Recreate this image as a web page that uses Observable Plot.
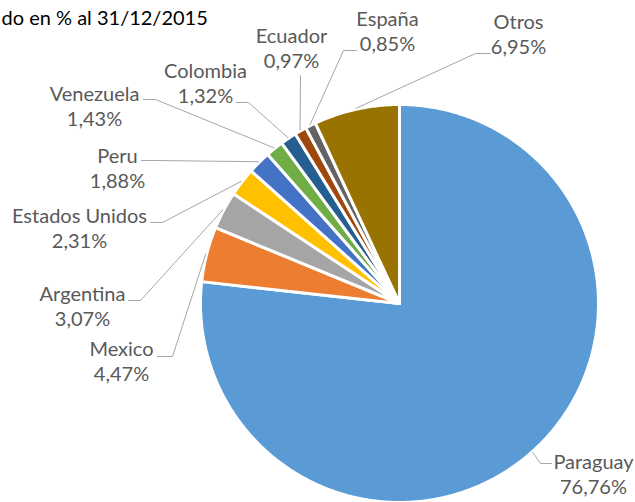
<!DOCTYPE html>
<html><head><meta charset="utf-8">
<script src="https://cdn.jsdelivr.net/npm/d3@7"></script>
<script src="https://cdn.jsdelivr.net/npm/@observablehq/plot@0.6"></script>
<style>body{margin:0;background:#fff} svg{display:block}</style>
</head><body><div id="chart"></div>
<script>
// ---- data ----
const subtitle = "do en % al 31/12/2015";
const countries = ["Paraguay","Mexico","Argentina","Estados Unidos","Peru","Venezuela","Colombia","Ecuador","España","Otros"];
const shares = [76.76, 4.47, 3.07, 2.31, 1.88, 1.43, 1.32, 0.97, 0.85, 6.95];
const sliceColors = ["#5B9BD5","#ED7D31","#A5A5A5","#FFC000","#4472C4","#70AD47","#255E91","#9E480E","#636363","#997300"];

// ---- layout ----
const W = 635, H = 502, CX = 399, CY = 303, R = 199;
const labelAt = [[593,493],[121,380],[82,325],[79,247],[117,187],[94,125],[205,102],[291,67],[387,50],[518,53]];
const leaderElbow = [[540,463],[172,356],[140,300],[162,222],[155,160],[155,99],[248,102],[300,75],[343,50],[475,53]];
const leaderEnd = [[551,463],[157,356],[128,300],[150,222],[141,160],[143,99],[236,102],[300,75],[356,50],[490,53]];

const rows = countries.map((name, i) => ({name, share: shares[i], i}));
const arcs = d3.pie().sort(null).value(d => d.share).startAngle(0).endAngle(2 * Math.PI)(rows);
const pt = (a, r) => ({x: CX + r * Math.sin(a), y: CY - r * Math.cos(a)});

const slicePts = [];
for (const a of arcs) {
  const name = a.data.name;
  slicePts.push({name, x: CX, y: CY});
  const n = Math.max(2, Math.ceil((a.endAngle - a.startAngle) / (Math.PI / 360)));
  for (let k = 0; k <= n; k++) {
    const ang = a.startAngle + (a.endAngle - a.startAngle) * k / n;
    slicePts.push({name, ...pt(ang, R)});
  }
  slicePts.push({name, x: CX, y: CY});
}

const leaderPts = [];
for (const a of arcs) {
  const i = a.data.i, name = a.data.name;
  const mid = (a.startAngle + a.endAngle) / 2;
  leaderPts.push({name, ...pt(mid, R + 1)});
  leaderPts.push({name, x: leaderElbow[i][0], y: leaderElbow[i][1]});
  leaderPts.push({name, x: leaderEnd[i][0], y: leaderEnd[i][1]});
}

const fmt = v => d3.format(".2f")(v).replace(".", ",") + "%";
const labels = rows.map(d => ({name: d.name, text: d.name + "\n" + fmt(d.share), x: labelAt[d.i][0], y: labelAt[d.i][1]}));

const chart = Plot.plot({
  width: W, height: H, margin: 0,
  x: {domain: [0, W], range: [0, W], axis: null},
  y: {domain: [0, H], range: [0, H], axis: null},
  color: {domain: countries, range: sliceColors},
  style: {fontFamily: "Lato, 'Open Sans', sans-serif", background: "#fff"},
  marks: [
    Plot.line(slicePts, {x: "x", y: "y", z: "name", fill: "name", stroke: "white", strokeWidth: 3, strokeLinejoin: "round"}),
    Plot.line(leaderPts, {x: "x", y: "y", z: "name", stroke: "#A6A6A6", strokeWidth: 1}),
    Plot.text(labels, {x: "x", y: "y", text: "text", fill: "#595959", fontSize: 20, lineAnchor: "bottom", lineHeight: 1.25, textAnchor: "middle"}),
    Plot.text([subtitle], {frameAnchor: "top-left", text: d => d, textAnchor: "start", dx: 1, dy: 24, lineAnchor: "bottom", fill: "#000", fontSize: 20})
  ]
});
document.getElementById("chart").append(chart);
</script>
</body></html>
